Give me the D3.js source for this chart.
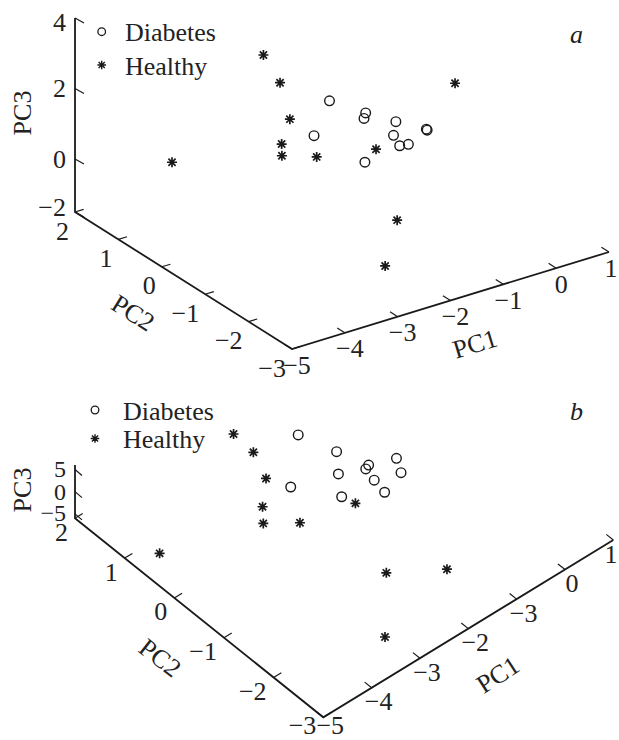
<!DOCTYPE html>
<html><head><meta charset="utf-8">
<script src="https://cdn.jsdelivr.net/npm/d3@7"></script>
<style>
body{margin:0;background:#fff}
svg{display:block}
text{font-family:"Liberation Serif","Tinos","Times New Roman","DejaVu Serif",serif;fill:#222}
</style>
</head><body><svg id="chart" width="619" height="740" font-family="Liberation Serif, Times New Roman, serif"></svg>
<script>
const categories = ["Diabetes", "Healthy"];

// Panel a values (PC1, PC2, PC3)
const aDiabetesPC1 = [-2.36,-2.62,-1.93,-1.92,-1.58,-1.60,-1.59,-1.45,-1.20,-1.21,-2.01];
const aDiabetesPC2 = [-0.65,-0.61,-0.96,-0.91,-1.23,-1.20,-1.33,-1.36,-1.47,-1.50,-1.04];
const aDiabetesPC3 = [2.5,1.6,2.2,2.0,2.0,1.6,1.4,1.4,1.8,1.8,0.9];
const aHealthyPC1 = [-4.47,-3.06,-2.91,-2.88,-3.06,-3.08,-2.66,-1.89,-0.69,-1.86,-2.35];
const aHealthyPC2 = [0.41,0.02,-0.18,-0.37,-0.40,-0.43,-0.72,-1.15,-1.51,-1.60,-1.92];
const aHealthyPC3 = [0.9,3.6,2.9,2.0,1.4,1.1,1.1,1.3,2.9,-0.5,-1.6];

// Panel b values
const bDiabetesPC1 = [-1.81,-2.53,-1.54,-1.78,-2.01,-1.36,-1.45,-1.45,-1.44,-1.00,-1.09];
const bDiabetesPC2 = [0.61,0.06,0.10,-0.17,-0.46,-0.37,-0.40,-0.57,-0.77,-0.58,-0.76];
const bDiabetesPC3 = [4,2,3,2,1,3,3,2,1,4,3];
const bHealthyPC1 = [-2.49,-2.46,-2.63,-3.02,-3.19,-2.75,-1.88,-4.78,-2.34,-1.64,-3.23];
const bHealthyPC2 = [1.25,0.88,0.46,0.15,-0.03,-0.34,-0.61,0.51,-1.68,-2.22,-2.52];
const bHealthyPC3 = [3,2,1,0,-1,-1,0,-2,-3,-2,-4];

// Ticks
const pc1Domain = [-5, 1];
const pc2Domain = [-3, 2];
const pc1TickValues = [-5,-4,-3,-2,-1,0,1];
const aPC1TickLabels = ["−5","−4","−3","−2","−1","0","1"];
const bPC1TickLabels = ["−5","−4","−3","−2","−3","0","1"];
const pc2TickValues = [2,1,0,-1,-2,-3];
const pc2TickLabels = ["2","1","0","−1","−2","−3"];
const aPC3TickValues = [-2,0,2,4];
const aPC3TickLabels = ["−2","0","2","4"];
const bPC3TickValues = [-5,0,5];
const bPC3TickLabels = ["−5","0","5"];

const panels = [
  {
    letter: "a", letterPos: [570, 43],
    corner: [292, 349], end1: [609, 252], end2: [75, 212],
    pc3Domain: [-2, 0, 4], pc3Range: [0, 53, 194], pc3FS: 26,
    pc3Ticks: aPC3TickValues, pc3Labels: aPC3TickLabels, pc3TickVec: [9, 5],
    pc1Labels: aPC1TickLabels, pc1LabelOff: [5, 16], pc2LabelOff: [-6, 19],
    pc1TickVec: [-7.6, -4.8], pc2TickVec: [8.6, -2.6],
    titles: {pc1: [475, 344, -17], pc2: [133, 313, 32], pc3: [22, 113, -90]},
    legend: {x: 101.7, y1: 31.7, y2: 65, tx: 125},
    diabetes: [aDiabetesPC1, aDiabetesPC2, aDiabetesPC3],
    healthy: [aHealthyPC1, aHealthyPC2, aHealthyPC3]
  },
  {
    letter: "b", letterPos: [570, 420],
    corner: [323.3, 717.3], end1: [613.3, 540], end2: [75, 518.3],
    pc3Domain: [-6, 6], pc3Range: [0, 53.3], pc3FS: 24,
    pc3Ticks: bPC3TickValues, pc3Labels: bPC3TickLabels, pc3TickVec: [7, 6],
    pc1Labels: bPC1TickLabels, pc1LabelOff: [7, 14], pc2LabelOff: [-7, 14],
    pc1TickVec: [-7, -5.6], pc2TickVec: [7.7, -4.7],
    titles: {pc1: [498, 675, -33], pc2: [160, 658, 38], pc3: [22, 490, -90]},
    legend: {x: 95, y1: 410, y2: 438.5, tx: 123},
    diabetes: [bDiabetesPC1, bDiabetesPC2, bDiabetesPC3],
    healthy: [bHealthyPC1, bHealthyPC2, bHealthyPC3]
  }
];

const svg = d3.select("#chart");
const ink = "#1a1a1a";
const FS = 26;

function starPath(r) {
  const d = r * 0.72;
  return `M${-r},0H${r}M0,${-r}V${r}M${-d},${-d}L${d},${d}M${-d},${d}L${d},${-d}`;
}

panels.forEach(P => {
  const g = svg.append("g");
  const s1 = d3.scaleLinear().domain(pc1Domain).range([P.corner, P.end1]);
  const s2 = d3.scaleLinear().domain(pc2Domain).range([P.corner, P.end2]);
  const s3 = d3.scaleLinear().domain(P.pc3Domain).range(P.pc3Range);
  const z0 = P.pc3Domain[0], z1 = P.pc3Domain[P.pc3Domain.length - 1];
  const proj = (v1, v2, v3) => {
    const p1 = s1(v1), p2 = s2(v2);
    return [p1[0] + p2[0] - P.corner[0], p1[1] + p2[1] - P.corner[1] - s3(v3)];
  };

  // axes lines
  const line = d3.line();
  const pA = proj(pc1Domain[0], pc2Domain[0], z0);
  const pB = proj(pc1Domain[1], pc2Domain[0], z0);
  const pC = proj(pc1Domain[0], pc2Domain[1], z0);
  const pD = proj(pc1Domain[0], pc2Domain[1], z1);
  g.append("path").attr("d", line([pB, pA, pC, pD]))
    .attr("fill", "none").attr("stroke", ink).attr("stroke-width", 1.8)
    .attr("stroke-linejoin", "miter");

  // PC1 ticks
  pc1TickValues.forEach((v, i) => {
    const p = proj(v, pc2Domain[0], z0);
    g.append("line").attr("x1", p[0]).attr("y1", p[1])
      .attr("x2", p[0] + P.pc1TickVec[0]).attr("y2", p[1] + P.pc1TickVec[1])
      .attr("stroke", ink).attr("stroke-width", 1.2);
    g.append("text").attr("x", Math.min(p[0] + P.pc1LabelOff[0], 611))
      .attr("y", Math.min(p[1] + P.pc1LabelOff[1], 725))
      .attr("text-anchor", "middle").attr("dominant-baseline", "central")
      .attr("font-size", FS).text(P.pc1Labels[i]);
  });
  // PC2 ticks
  pc2TickValues.forEach((v, i) => {
    const p = proj(pc1Domain[0], v, z0);
    g.append("line").attr("x1", p[0]).attr("y1", p[1])
      .attr("x2", p[0] + P.pc2TickVec[0]).attr("y2", p[1] + P.pc2TickVec[1])
      .attr("stroke", ink).attr("stroke-width", 1.2);
    g.append("text").attr("x", p[0] + P.pc2LabelOff[0])
      .attr("y", Math.min(p[1] + P.pc2LabelOff[1], 725))
      .attr("text-anchor", "end").attr("dominant-baseline", "central")
      .attr("font-size", FS).text(pc2TickLabels[i]);
  });
  // PC3 ticks
  const zTop = proj(pc1Domain[0], pc2Domain[1], z1)[1];
  const zBot = proj(pc1Domain[0], pc2Domain[1], z0)[1];
  P.pc3Ticks.forEach((v, i) => {
    const p = proj(pc1Domain[0], pc2Domain[1], v);
    g.append("line").attr("x1", p[0]).attr("y1", p[1])
      .attr("x2", p[0] + P.pc3TickVec[0]).attr("y2", p[1] + P.pc3TickVec[1])
      .attr("stroke", ink).attr("stroke-width", 1.2);
    g.append("text").attr("x", p[0] - 9)
      .attr("y", Math.max(zTop + 4, Math.min(zBot - 5, p[1])))
      .attr("text-anchor", "end").attr("dominant-baseline", "central")
      .attr("font-size", P.pc3FS).text(P.pc3Labels[i]);
  });

  // axis titles
  const T = P.titles;
  [["PC1", T.pc1], ["PC2", T.pc2], ["PC3", T.pc3]].forEach(([t, pos]) => {
    g.append("text").attr("transform", `translate(${pos[0]},${pos[1]}) rotate(${pos[2]})`)
      .attr("text-anchor", "middle").attr("dominant-baseline", "central")
      .attr("font-size", FS).text(t);
  });

  // panel letter
  g.append("text").attr("x", P.letterPos[0]).attr("y", P.letterPos[1])
    .attr("font-size", FS).attr("font-style", "italic").text(P.letter);

  // data: diabetes circles
  const dPts = P.diabetes[0].map((v, i) => proj(v, P.diabetes[1][i], P.diabetes[2][i]));
  g.selectAll("circle.d").data(dPts).join("circle").attr("class", "d")
    .attr("cx", d => d[0]).attr("cy", d => d[1]).attr("r", 4.8)
    .attr("fill", "none").attr("stroke", ink).attr("stroke-width", 1.4);
  // healthy stars
  const hPts = P.healthy[0].map((v, i) => proj(v, P.healthy[1][i], P.healthy[2][i]));
  g.selectAll("path.h").data(hPts).join("path").attr("class", "h")
    .attr("transform", d => `translate(${d[0]},${d[1]})`)
    .attr("d", starPath(5)).attr("stroke", ink).attr("stroke-width", 1.7).attr("fill", "none");

  // legend
  const L = P.legend;
  g.append("circle").attr("cx", L.x).attr("cy", L.y1).attr("r", 3.8)
    .attr("fill", "none").attr("stroke", ink).attr("stroke-width", 1.3);
  g.append("path").attr("transform", `translate(${L.x},${L.y2})`).attr("d", starPath(4.3))
    .attr("stroke", ink).attr("stroke-width", 1.4);
  g.append("text").attr("x", L.tx).attr("y", L.y1).attr("dominant-baseline", "central")
    .attr("dy", 1).attr("font-size", FS).text(categories[0]);
  g.append("text").attr("x", L.tx).attr("y", L.y2).attr("dominant-baseline", "central")
    .attr("dy", 1).attr("font-size", FS).text(categories[1]);
});
</script>
</body></html>
